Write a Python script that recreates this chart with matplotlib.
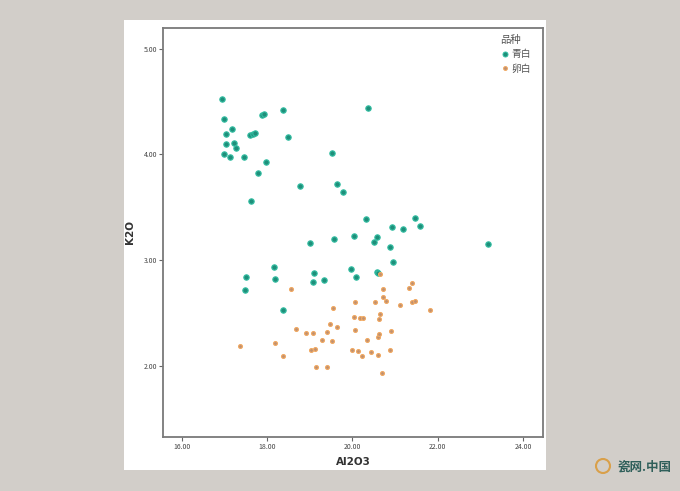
import matplotlib
matplotlib.use("Agg")
import matplotlib.pyplot as plt
from matplotlib.patches import Rectangle, Ellipse
from matplotlib.lines import Line2D

plt.rcParams['font.family'] = ['Noto Sans CJK SC', 'DejaVu Sans']

# 青白 (qingbai)
qb_al2o3 = [16.94, 17.00, 17.05, 17.19, 17.04, 17.23, 17.28, 16.99, 17.13, 17.46,
            17.61, 17.67, 17.72, 17.89, 17.94, 18.38, 18.49, 17.98, 17.79, 17.62,
            19.52, 19.65, 19.79, 18.77, 20.36, 20.33, 21.48, 21.58, 20.94, 21.18,
            20.04, 20.59, 20.52, 20.88, 19.56, 19.00, 23.17, 20.96, 19.98, 20.09,
            20.57, 20.61, 19.10, 19.08, 19.33, 18.17, 18.19, 17.50, 17.48, 18.38]
qb_k2o = [4.53, 4.34, 4.19, 4.24, 4.10, 4.11, 4.06, 4.00, 3.98, 3.98,
          4.18, 4.19, 4.20, 4.37, 4.38, 4.42, 4.17, 3.93, 3.82, 3.56,
          4.01, 3.72, 3.64, 3.70, 4.44, 3.39, 3.40, 3.32, 3.31, 3.29,
          3.23, 3.22, 3.17, 3.12, 3.20, 3.16, 3.15, 2.98, 2.92, 2.84,
          2.89, 2.88, 2.88, 2.79, 2.81, 2.93, 2.82, 2.84, 2.72, 2.53]

# 卵白 (luanbai)
lb_al2o3 = [17.37, 18.19, 18.38, 18.56, 18.69, 18.92, 19.07, 19.03, 19.12, 19.15,
            19.30, 19.40, 19.47, 19.64, 19.53, 19.40, 19.54, 20.00, 20.07, 20.04,
            20.07, 20.18, 20.25, 20.14, 20.23, 20.34, 20.43, 20.53, 20.61, 20.61,
            20.62, 20.62, 20.66, 20.70, 20.65, 20.72, 20.71, 20.78, 20.88, 20.91,
            21.11, 21.32, 21.39, 21.41, 21.46, 21.83]
lb_k2o = [2.19, 2.21, 2.09, 2.73, 2.35, 2.31, 2.31, 2.15, 2.16, 1.99,
          2.24, 2.32, 2.39, 2.37, 2.23, 1.99, 2.55, 2.15, 2.34, 2.46,
          2.60, 2.45, 2.45, 2.14, 2.09, 2.24, 2.13, 2.60, 2.10, 2.27,
          2.30, 2.44, 2.49, 1.93, 2.87, 2.73, 2.65, 2.61, 2.15, 2.33,
          2.57, 2.74, 2.78, 2.60, 2.61, 2.53]

x_ticks = [16, 18, 20, 22, 24]
y_ticks = [2, 3, 4, 5]
series_names = ['青白', '卵白']
legend_title = '品种'

fig = plt.figure(figsize=(6.8, 4.91), dpi=100)
fig.patch.set_facecolor('#d2cec9')

# white panel
fig.patches.append(Rectangle((124/680, 1-470/491), (546-124)/680, (470-20)/491,
                             transform=fig.transFigure, facecolor='white',
                             edgecolor='none', zorder=-10))

ax = fig.add_axes([163.3/680, 1-436.7/491, (543-163.3)/680, (436.7-28.3)/491])
ax.set_zorder(2)
ax.set_facecolor('white')

teal = '#1e8f7a'
teal_edge = '#34bfa3'
orange = '#c09070'
orange_edge = '#f2aa62'

ax.scatter(qb_al2o3, qb_k2o, s=15, c=teal, edgecolors=teal_edge, linewidths=0.8, zorder=3)
ax.scatter(lb_al2o3, lb_k2o, s=8, c=orange, edgecolors=orange_edge, linewidths=0.8, zorder=3)

ax.set_xlim(15.57, 24.47)
ax.set_ylim(1.327, 5.195)
ax.set_xticks(x_ticks)
ax.set_xticklabels([f'{v:.2f}' for v in x_ticks])
ax.set_yticks(y_ticks)
ax.set_yticklabels([f'{v:.2f}' for v in y_ticks])
ax.tick_params(axis='both', labelsize=5, colors='#666666', length=3, width=0.8,
               labelcolor='#444444', pad=1.5)
for sp in ax.spines.values():
    sp.set_color('#7a7a7a')
    sp.set_linewidth(1.3)

ax.set_xlabel('Al2O3', fontsize=7.5, fontweight='bold', color='#333333', labelpad=4,
              family='DejaVu Sans')
ax.set_ylabel('K2O', fontsize=7.5, fontweight='bold', color='#333333', labelpad=6,
              family='DejaVu Sans')

handles = [Line2D([], [], marker='o', linestyle='none', markersize=3.6,
                  markerfacecolor=teal, markeredgecolor=teal_edge, markeredgewidth=0.7),
           Line2D([], [], marker='o', linestyle='none', markersize=2.8,
                  markerfacecolor=orange, markeredgecolor=orange_edge, markeredgewidth=0.7)]
leg = ax.legend(handles, series_names, title=legend_title, loc='upper right',
                frameon=False, fontsize=7, title_fontsize=7.5,
                handletextpad=0.1, handlelength=1.0, labelspacing=0.45,
                borderaxespad=0.3, bbox_to_anchor=(0.985, 1.0))
for t in leg.get_texts():
    t.set_color('#555555')
leg.get_title().set_color('#555555')
leg._legend_box.align = 'left'

# watermark
fig.text(617/680, 1-467/491, '瓷网.中国', fontsize=9, color='#2f5f5a',
         ha='left', va='center', fontweight='bold')
fig.patches.append(Ellipse((603/680, 1-466/491), 14/680, 14/491, transform=fig.transFigure,
                           facecolor='none', edgecolor='#d9a04a', linewidth=1.5))

fig.savefig('out.png', dpi=100, facecolor=fig.get_facecolor())
